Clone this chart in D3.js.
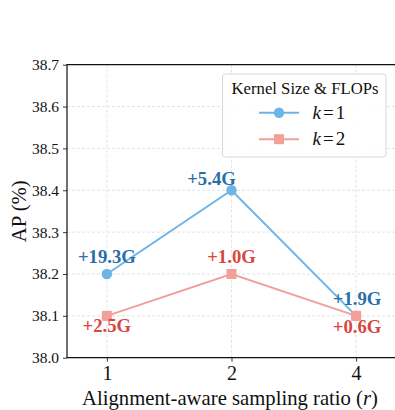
<!DOCTYPE html>
<html>
<head>
<meta charset="utf-8">
<script src="https://cdn.jsdelivr.net/npm/d3@7.9.0/dist/d3.min.js"></script>
</head>
<body style="margin:0;background:#fff">
<div id="chart"></div>
<script>
// ---- data ----
const ratios = ['1', '2', '4'];
const apK1 = [38.2, 38.4, 38.1];
const apK2 = [38.1, 38.2, 38.1];
const flopsK1 = ['+19.3G', '+5.4G', '+1.9G'];
const flopsK2 = ['+2.5G', '+1.0G', '+0.6G'];
const yTicks = [38.0, 38.1, 38.2, 38.3, 38.4, 38.5, 38.6, 38.7];

const FONT = 'Liberation Serif';
const width = 395, height = 410;
const margin = { top: 64.7, right: -1, bottom: 52.3, left: 67 };

const series = [
  { name: 'k1', k: '1', values: apK1, labels: flopsK1, line: '#6db5e6', text: '#2b6ea6', shape: 'circle',
    offsets: [[0, -11], [-20, -5], [1, -11]] },
  { name: 'k2', k: '2', values: apK2, labels: flopsK2, line: '#f2a097', text: '#d8473f', shape: 'square',
    offsets: [[0, 16.5], [0, -11], [1, 17.5]] },
];

const svg = d3.select('#chart').append('svg')
  .attr('width', width).attr('height', height)
  .style('display', 'block')
  .attr('font-family', FONT);

const x = d3.scalePoint()
  .domain(ratios)
  .range([margin.left, width - margin.right])
  .padding(0.32);

const y = d3.scaleLinear()
  .domain([38.0, 38.7])
  .range([height - margin.bottom, margin.top]);

// gridlines
const grid = svg.append('g').attr('class', 'grid')
  .attr('stroke', '#dcdcdc').attr('stroke-width', 0.8).attr('stroke-dasharray', '3,2');
grid.selectAll('line.h').data(yTicks).join('line').attr('class', 'h')
  .attr('x1', margin.left).attr('x2', width - margin.right)
  .attr('y1', d => y(d)).attr('y2', d => y(d));
grid.selectAll('line.v').data(ratios).join('line').attr('class', 'v')
  .attr('x1', d => x(d)).attr('x2', d => x(d))
  .attr('y1', margin.top).attr('y2', height - margin.bottom);

// axes
const yAxis = svg.append('g')
  .attr('transform', `translate(${margin.left},0)`)
  .call(d3.axisLeft(y).tickValues(yTicks).tickFormat(d3.format('.1f')).tickSize(4).tickPadding(4));
const xAxis = svg.append('g')
  .attr('transform', `translate(0,${height - margin.bottom})`)
  .call(d3.axisBottom(x).tickSize(4).tickPadding(4));

[xAxis, yAxis].forEach(a => {
  a.attr('font-family', FONT);
  a.select('.domain').remove();
  a.selectAll('.tick line').attr('stroke', '#222').attr('stroke-width', 0.9);
  a.selectAll('.tick text').attr('fill', '#111').attr('font-family', FONT).attr('font-size', 15.5);
});
xAxis.selectAll('.tick text').attr('font-size', 20);

// spines (left, top, bottom)
svg.append('path')
  .attr('d', `M${width - margin.right},${margin.top}H${margin.left}V${height - margin.bottom}H${width - margin.right}`)
  .attr('fill', 'none').attr('stroke', '#111').attr('stroke-width', 1.2);

// axis labels
svg.append('text')
  .attr('x', 230).attr('y', 405)
  .attr('font-family', FONT)
  .attr('text-anchor', 'middle').attr('font-size', 20.7).attr('fill', '#111')
  .html('Alignment-aware sampling ratio (<tspan font-style="italic">r</tspan>)');

svg.append('text')
  .attr('transform', `translate(26,${(margin.top + height - margin.bottom) / 2}) rotate(-90)`)
  .attr('font-family', FONT)
  .attr('text-anchor', 'middle').attr('font-size', 20.7).attr('fill', '#111')
  .text('AP (%)');

// lines and markers
const line = d3.line().x((d, i) => x(ratios[i])).y(d => y(d));

series.forEach(s => {
  const g = svg.append('g').attr('class', s.name);
  g.append('path').datum(s.values)
    .attr('d', line).attr('fill', 'none')
    .attr('stroke', s.line).attr('stroke-width', 2);
  if (s.shape === 'circle') {
    g.selectAll('circle').data(s.values).join('circle')
      .attr('cx', (d, i) => x(ratios[i])).attr('cy', d => y(d))
      .attr('r', 5.2).attr('fill', s.line);
  } else {
    g.selectAll('rect').data(s.values).join('rect')
      .attr('x', (d, i) => x(ratios[i]) - 5).attr('y', d => y(d) - 5)
      .attr('width', 10).attr('height', 10).attr('fill', s.line);
  }
});

// FLOPs labels
series.forEach(s => {
  svg.append('g').selectAll('text').data(s.values).join('text')
    .attr('x', (d, i) => x(ratios[i]) + s.offsets[i][0])
    .attr('y', (d, i) => y(d) + s.offsets[i][1])
    .attr('font-family', FONT)
    .attr('text-anchor', 'middle')
    .attr('font-size', 18.7).attr('font-weight', 'bold')
    .attr('fill', s.text)
    .text((d, i) => s.labels[i]);
});

// legend
const lg = svg.append('g').attr('class', 'legend');
lg.append('rect')
  .attr('x', 222.5).attr('y', 74).attr('width', 163.5).attr('height', 83)
  .attr('rx', 3).attr('fill', '#fff').attr('fill-opacity', 0.9)
  .attr('stroke', '#d8d8d8').attr('stroke-width', 1);
lg.append('text')
  .attr('x', 305).attr('y', 93.5).attr('text-anchor', 'middle')
  .attr('font-family', FONT)
  .attr('font-size', 16.7).attr('fill', '#111')
  .text('Kernel Size & FLOPs');

series.forEach((s, i) => {
  const cy = 112.7 + i * 26.5;
  const e = lg.append('g');
  e.append('line').attr('x1', 259).attr('x2', 299).attr('y1', cy).attr('y2', cy)
    .attr('stroke', s.line).attr('stroke-width', 2);
  if (s.shape === 'circle') {
    e.append('circle').attr('cx', 279).attr('cy', cy).attr('r', 5.2).attr('fill', s.line);
  } else {
    e.append('rect').attr('x', 274).attr('y', cy - 5).attr('width', 10).attr('height', 10).attr('fill', s.line);
  }
  e.append('text').attr('x', 312.5).attr('y', cy + 6)
    .attr('font-family', FONT)
    .attr('font-size', 19).attr('fill', '#111')
    .html(`<tspan font-style="italic">k</tspan><tspan dx="2">=</tspan><tspan dx="2">${s.k}</tspan>`);
});
</script>
</body>
</html>
